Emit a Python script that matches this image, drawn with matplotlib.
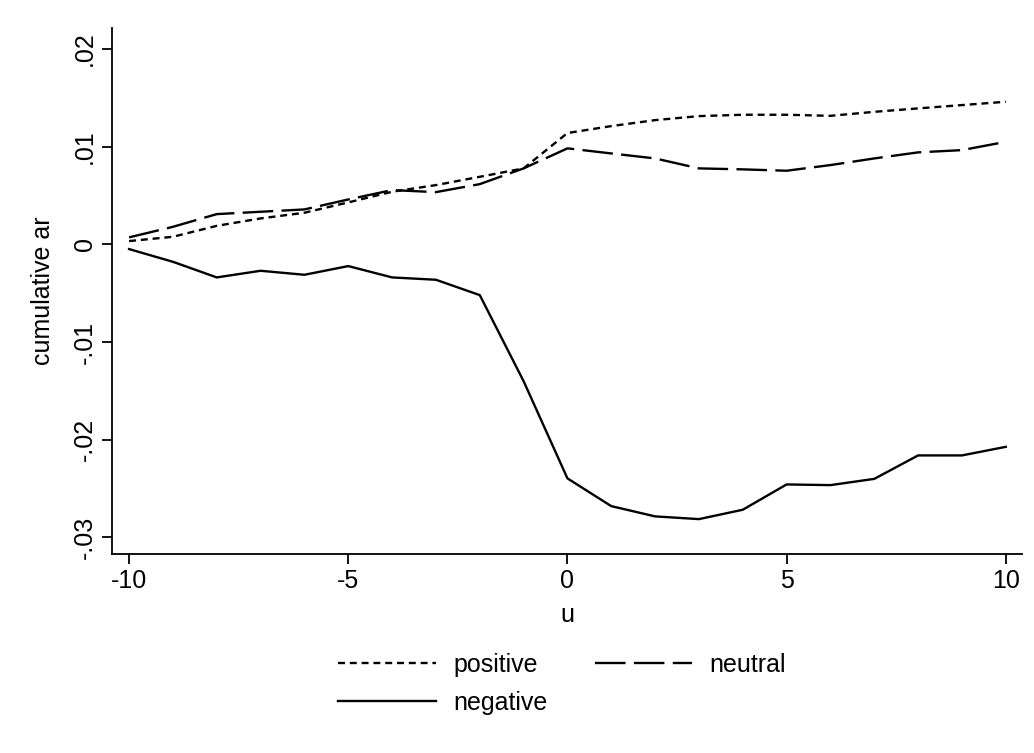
import matplotlib
matplotlib.use("Agg")
import matplotlib.pyplot as plt

u = list(range(-10, 11))
positive = [0.00034, 0.00078, 0.0019, 0.00266, 0.00324, 0.0043, 0.00539, 0.00607, 0.00692, 0.00778, 0.0114,
            0.01211, 0.01272, 0.01313, 0.01327, 0.01327, 0.01316, 0.01357, 0.01392, 0.01426, 0.0146]
neutral = [0.00072, 0.0018, 0.0031, 0.00334, 0.00358, 0.0046, 0.00556, 0.00535, 0.00617, 0.00778, 0.00983,
           0.00931, 0.0088, 0.00778, 0.00768, 0.00754, 0.00812, 0.0088, 0.00942, 0.00965, 0.0105]
negative = [-0.00048, -0.00178, -0.00338, -0.0027, -0.00311, -0.00222, -0.00338, -0.00362, -0.00519, -0.0140, -0.02395,
            -0.02679, -0.02784, -0.02812, -0.02716, -0.02457, -0.02464, -0.0240, -0.0216, -0.0216, -0.02072]
xticks = [-10, -5, 0, 5, 10]
yticks = [-0.03, -0.02, -0.01, 0, 0.01, 0.02]
yticklabels = ["-.03", "-.02", "-.01", "0", ".01", ".02"]

plt.rcParams['font.family'] = ['Liberation Sans', 'DejaVu Sans']
plt.rcParams['lines.scale_dashes'] = False

fig = plt.figure(figsize=(10.34, 7.53), dpi=100)
W, H = 1034, 753
ax = fig.add_axes([112 / W, 1 - 554 / H, (1022 - 112) / W, (554 - 28) / H])

lw = 1.7
lp, = ax.plot(u, positive, color='black', lw=lw, linestyle=(0, (5, 3.5)), label='positive')
lz, = ax.plot(u, neutral, color='black', lw=lw, linestyle=(0, (22, 6)), label='neutral')
ln, = ax.plot(u, negative, color='black', lw=lw, linestyle='-', label='negative')

ax.set_xlim(-10.39, 10.37)
ax.set_ylim(-0.03169, 0.02215)
ax.set_xticks(xticks)
ax.set_xticklabels([str(t) for t in xticks])
ax.set_yticks(yticks)
ax.set_yticklabels(yticklabels, rotation=90, va='center')
for s in ['top', 'right']:
    ax.spines[s].set_visible(False)
for s in ['left', 'bottom']:
    ax.spines[s].set_linewidth(1.3)
ax.tick_params(axis='both', direction='out', length=7, width=1.3, labelsize=18, pad=4)
ax.set_xlabel('u', fontsize=18, labelpad=7)
ax.set_ylabel('cumulative ar', fontsize=18, labelpad=13)

# column-major fill: col1 = positive, negative ; col2 = neutral
leg = fig.legend([lp, ln, lz], ['positive', 'negative', 'neutral'],
                 loc='upper left', bbox_to_anchor=(328 / W, 1 - 643 / H),
                 ncol=2, frameon=False, fontsize=18, handlelength=3.9,
                 columnspacing=1.9, labelspacing=0.55, handletextpad=0.7,
                 borderaxespad=0)

fig.savefig('out.png', dpi=100, facecolor='white')
